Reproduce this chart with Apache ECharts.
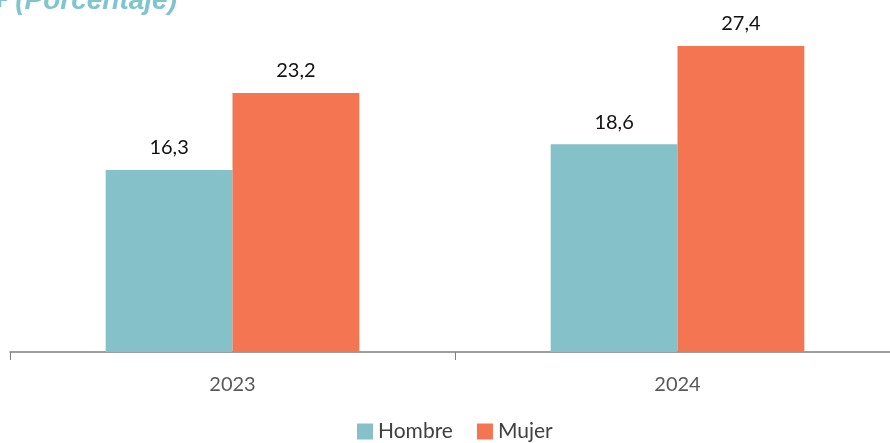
<!DOCTYPE html>
<html><head><meta charset="utf-8">
<script src="https://cdn.jsdelivr.net/npm/echarts@6/dist/echarts.min.js"></script>
<style>html,body{margin:0;padding:0;background:#fff;overflow:hidden}#c{width:900px;height:443px}</style>
</head><body><div id="c"></div>
<script>
const categories = ['2023', '2024'];
const hombre = [16.3, 18.6];
const mujer = [23.2, 27.4];
const seriesNames = ['Hombre', 'Mujer'];
const titleText = '+ (Porcentaje)';

const chart = echarts.init(document.getElementById('c'));
const fmt = p => p.value.toFixed(1).replace('.', ',');
const labelStyle = {show: true, position: 'top', distance: 12, formatter: fmt, color: '#111', fontSize: 20, fontFamily: 'Lato'};
chart.setOption({
  animation: false,
  graphic: [{type: 'text', left: -9, top: -13, style: {text: titleText, fill: '#7fc5cd', font: 'italic bold 28px "Liberation Sans"'}}],
  grid: {left: 10, right: 0, top: 17, bottom: 91, containLabel: false},
  legend: {bottom: -4, left: 352, itemWidth: 16, itemHeight: 16, itemGap: 24, icon: 'rect',
    textStyle: {color: '#404040', fontSize: 21, fontFamily: 'Lato'}, data: seriesNames},
  xAxis: {type: 'category', data: categories,
    axisLine: {lineStyle: {color: '#7f7f7f', width: 1.5}},
    axisTick: {show: true, length: 8, lineStyle: {color: '#7f7f7f'}},
    axisLabel: {color: '#595959', fontSize: 20, fontFamily: 'Lato', margin: 23}},
  yAxis: {type: 'value', min: 0, max: 30, show: false, splitLine: {show: false}},
  series: [
    {name: seriesNames[0], type: 'bar', data: hombre, itemStyle: {color: '#85c1c8'}, barGap: '0%', barCategoryGap: '43%', label: labelStyle},
    {name: seriesNames[1], type: 'bar', data: mujer, itemStyle: {color: '#f47551'}, barGap: '0%', barCategoryGap: '43%', label: labelStyle}
  ]
});
</script></body></html>
